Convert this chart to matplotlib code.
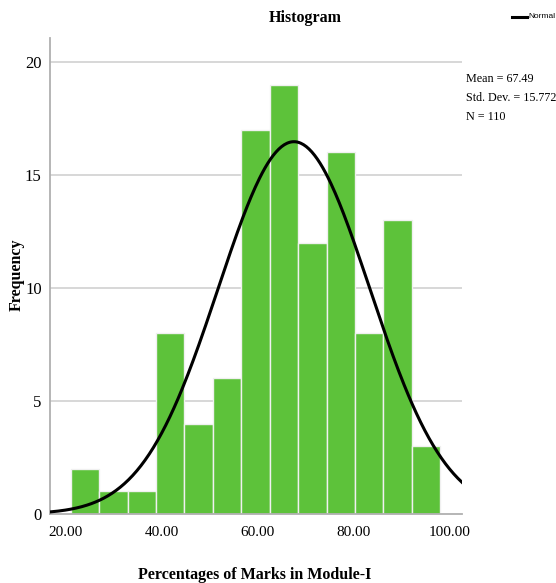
import numpy as np
import matplotlib
matplotlib.use("Agg")
import matplotlib.pyplot as plt

# histogram counts (13 bins) and bin settings
counts = [2, 1, 1, 8, 4, 6, 17, 19, 12, 16, 8, 13, 3]
bin_start = 21.0
bin_width = 5.92
mean = 67.49
sd = 15.772
n = 110
x_ticks = [20, 40, 60, 80, 100]
x_labels = ["20.00", "40.00", "60.00", "80.00", "100.00"]
y_ticks = [0, 5, 10, 15, 20]

plt.rcParams['font.family'] = ['Liberation Serif', 'DejaVu Serif']

fig = plt.figure(figsize=(5.56, 5.83), dpi=100)
ax = fig.add_axes([50/556, 69/583, 412/556, 476/583])

edges = bin_start + bin_width*np.arange(len(counts))
ax.bar(edges, counts, width=bin_width, align='edge', color='#5dc23a',
       edgecolor='#f0f0f0', linewidth=1.0, zorder=2)

xmin, xmax = 16.67, 102.5
xs = np.linspace(xmin, xmax, 300)
ys = n*bin_width/(sd*np.sqrt(2*np.pi))*np.exp(-0.5*((xs-mean)/sd)**2)
ax.plot(xs, ys, color='black', lw=2.2, zorder=3)

ax.set_xlim(xmin, xmax)
ax.set_ylim(0, 21.06)
ax.set_xticks(x_ticks)
ax.set_xticklabels(x_labels, fontsize=11)
ax.set_yticks(y_ticks)
ax.set_yticklabels([str(v) for v in y_ticks], fontsize=12)
ax.tick_params(length=0, pad=6)
ax.tick_params(axis='x', pad=9)
for v in y_ticks[1:]:
    ax.axhline(v, color='#d4d4d4', lw=1.3, zorder=1)
for s in ['top', 'right']:
    ax.spines[s].set_visible(False)
ax.spines['left'].set_color('#b0b0b0')
ax.spines['bottom'].set_color('#b0b0b0')
ax.spines['left'].set_linewidth(1.3)
ax.spines['bottom'].set_linewidth(1.3)

fig.text(305/556, 1-18/583, "Histogram", ha='center', va='center',
         fontsize=11.5, fontweight='bold')
fig.text(255/556, 1-575/583, "Percentages of Marks in Module-I", ha='center',
         va='center', fontsize=11.5, fontweight='bold')
fig.text(17/556, 1-275/583, "Frequency", ha='center', va='center',
         rotation=90, fontsize=11.5, fontweight='bold')

# legend in the top right corner
fig.lines.append(plt.Line2D([512/556, 527/556], [1-17/583, 1-17/583],
                            transform=fig.transFigure, color='black', lw=2.2))
fig.text(528/556, 1-17/583, "Normal", ha='left', va='center', fontsize=6,
         family=['Liberation Sans Narrow', 'Liberation Sans', 'DejaVu Sans'])

stats = ["Mean = %.2f" % mean, "Std. Dev. = %.3f" % sd, "N = %d" % n]
for i, s in enumerate(stats):
    fig.text(466/556, 1-(79+19*i)/583, s, ha='left', va='center', fontsize=8.7)

fig.savefig("out.png", dpi=100)
